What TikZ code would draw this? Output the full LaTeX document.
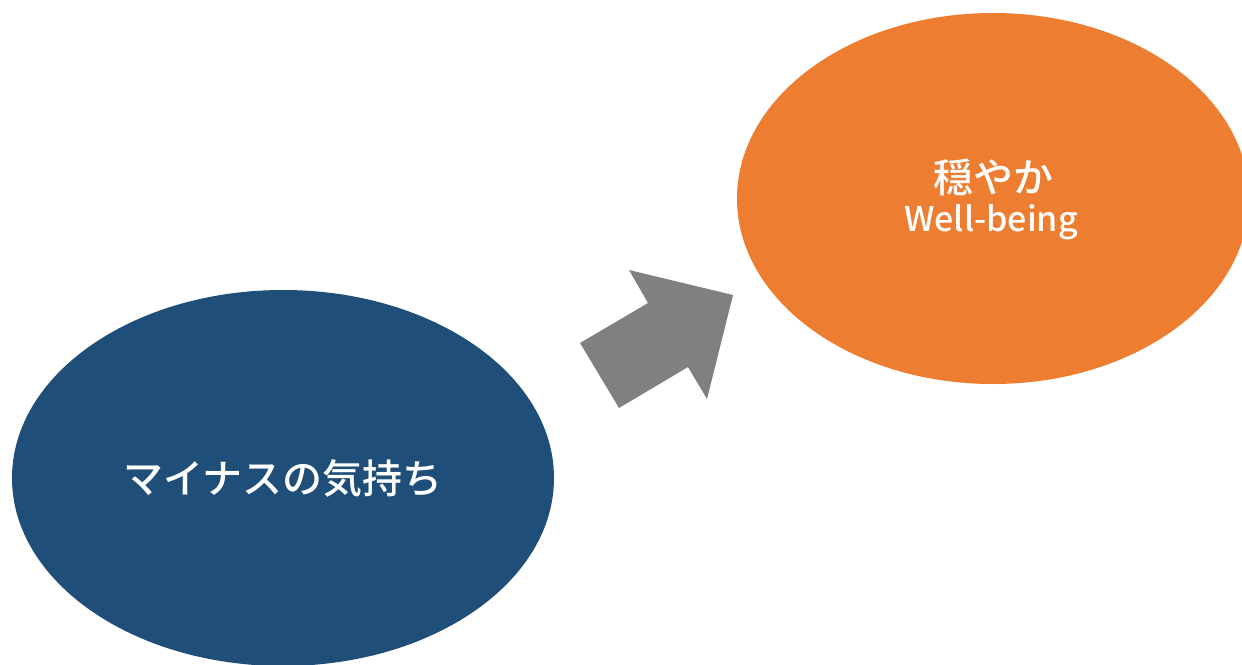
\documentclass[tikz,border=0pt]{standalone}
\usepackage{fontspec}
\newfontfamily\jp{Noto Sans CJK JP}[BoldFont={Noto Sans CJK JP Medium}]
\usetikzlibrary{shapes.geometric}
\definecolor{navy}{HTML}{1F4E79}
\definecolor{orng}{HTML}{ED7D31}
\definecolor{arrgray}{HTML}{808080}
\tikzset{
  blob/.style={ellipse, inner sep=0pt, text=white, font=\jp, align=center},
  label text/.style={text=white, inner sep=0pt},
}
\begin{document}
\begin{tikzpicture}[x=1pt,y=-1pt]
\useasboundingbox (0,0) rectangle (1242,664);
\clip (0,0) rectangle (1242,664);
\node[blob, fill=navy, minimum width=542pt, minimum height=376pt] (neg) at (283,478) {};
\node[blob, fill=orng, minimum width=512pt, minimum height=371pt] (calm) at (993,198.5) {};
\node[label text, font=\jp\bfseries\fontsize{40}{42}\selectfont, anchor=center] (negtxt) at (283,478) {マイナスの気持ち};
\node[label text, font=\jp\bfseries\fontsize{40}{42}\selectfont, anchor=center] (calmtxt) at (993,177) {穏やか};
\node[label text, font=\jp\bfseries\fontsize{34}{36}\selectfont, anchor=base] (wb) at (991,231) {Well-being};
\fill[arrgray] (580,343) -- (648,303) -- (629,270) -- (733,295) -- (707,399) -- (688,367) -- (619,408) -- cycle;
\end{tikzpicture}
\end{document}
